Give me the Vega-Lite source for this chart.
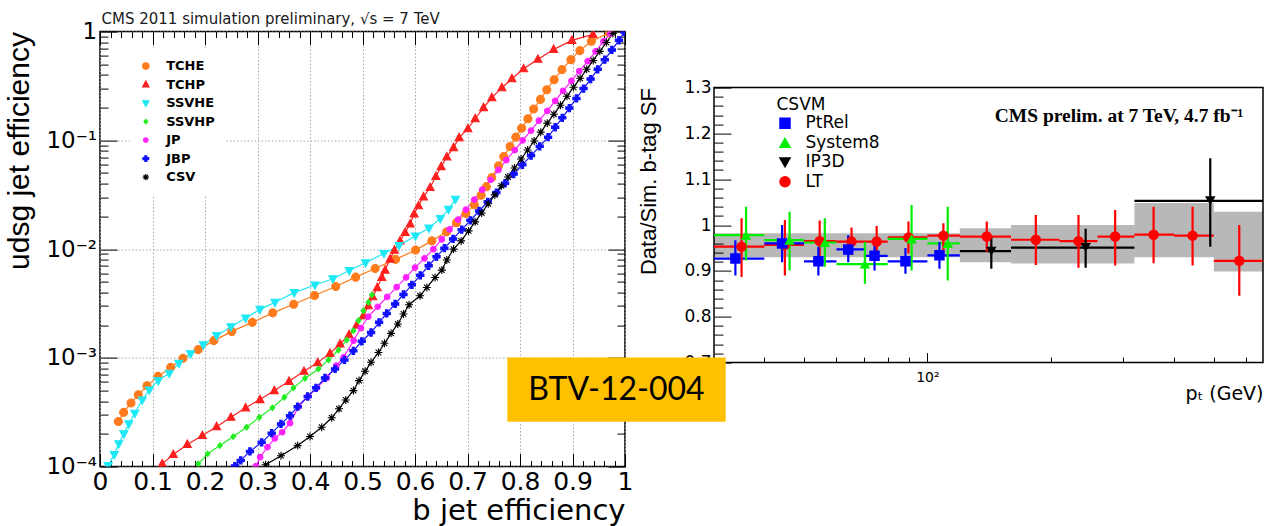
{
  "$schema": "https://vega.github.io/schema/vega-lite/v6.json",
  "autosize": {"type": "pad"},
  "padding": {"left": 3, "top": 10.6, "right": 0, "bottom": 0},
  "background": "white",
  "config": {
    "font": "DejaVu Sans",
    "axis": {"domain": false, "grid": false, "labelColor": "black", "tickColor": "black", "titleColor": "black", "titleFontWeight": "normal", "labelOverlap": false, "labelFlush": false},
    "legend": {"labelColor": "black", "titleColor": "black"}
  },
  "resolve": {"scale": {"fill": "independent", "stroke": "independent", "shape": "independent"}, "legend": {"fill": "independent", "stroke": "independent", "shape": "independent"}},
  "datasets": {
    "roc": [
      {"tagger":"TCHE","b":0.035,"udsg":2.60e-4},{"tagger":"TCHE","b":0.045,"udsg":3.15e-4},{"tagger":"TCHE","b":0.059,"udsg":3.84e-4},{"tagger":"TCHE","b":0.073,"udsg":4.58e-4},{"tagger":"TCHE","b":0.0895,"udsg":5.53e-4},{"tagger":"TCHE","b":0.1105,"udsg":6.75e-4},{"tagger":"TCHE","b":0.1346,"udsg":8.17e-4},{"tagger":"TCHE","b":0.158,"udsg":9.89e-4},{"tagger":"TCHE","b":0.187,"udsg":1.19e-3},{"tagger":"TCHE","b":0.217,"udsg":1.44e-3},{"tagger":"TCHE","b":0.251,"udsg":1.75e-3},{"tagger":"TCHE","b":0.29,"udsg":2.12e-3},{"tagger":"TCHE","b":0.329,"udsg":2.59e-3},{"tagger":"TCHE","b":0.369,"udsg":3.11e-3},{"tagger":"TCHE","b":0.4086,"udsg":3.74e-3},{"tagger":"TCHE","b":0.449,"udsg":4.53e-3},{"tagger":"TCHE","b":0.487,"udsg":5.52e-3},{"tagger":"TCHE","b":0.524,"udsg":6.64e-3},{"tagger":"TCHE","b":0.563,"udsg":8.04e-3},{"tagger":"TCHE","b":0.601,"udsg":9.79e-3},{"tagger":"TCHE","b":0.632,"udsg":1.19e-2},{"tagger":"TCHE","b":0.66,"udsg":1.44e-2},{"tagger":"TCHE","b":0.679,"udsg":1.75e-2},{"tagger":"TCHE","b":0.697,"udsg":2.13e-2},{"tagger":"TCHE","b":0.713,"udsg":2.56e-2},{"tagger":"TCHE","b":0.726,"udsg":3.13e-2},{"tagger":"TCHE","b":0.736,"udsg":3.75e-2},{"tagger":"TCHE","b":0.746,"udsg":4.54e-2},{"tagger":"TCHE","b":0.759,"udsg":5.82e-2},{"tagger":"TCHE","b":0.769,"udsg":7.10e-2},{"tagger":"TCHE","b":0.781,"udsg":8.77e-2},{"tagger":"TCHE","b":0.792,"udsg":0.107},{"tagger":"TCHE","b":0.803,"udsg":0.129},{"tagger":"TCHE","b":0.815,"udsg":0.158},{"tagger":"TCHE","b":0.826,"udsg":0.194},{"tagger":"TCHE","b":0.839,"udsg":0.238},{"tagger":"TCHE","b":0.851,"udsg":0.292},{"tagger":"TCHE","b":0.865,"udsg":0.361},{"tagger":"TCHE","b":0.88,"udsg":0.447},{"tagger":"TCHE","b":0.897,"udsg":0.552},{"tagger":"TCHE","b":0.914,"udsg":0.668},{"tagger":"TCHE","b":0.936,"udsg":0.815},{"tagger":"TCHE","b":0.97,"udsg":0.973},
      {"tagger":"TCHP","b":0.1186,"udsg":1.06e-4},{"tagger":"TCHP","b":0.1396,"udsg":1.29e-4},{"tagger":"TCHP","b":0.1663,"udsg":1.60e-4},{"tagger":"TCHP","b":0.1949,"udsg":1.93e-4},{"tagger":"TCHP","b":0.2221,"udsg":2.33e-4},{"tagger":"TCHP","b":0.2494,"udsg":2.84e-4},{"tagger":"TCHP","b":0.2774,"udsg":3.47e-4},{"tagger":"TCHP","b":0.3047,"udsg":4.13e-4},{"tagger":"TCHP","b":0.3321,"udsg":5.00e-4},{"tagger":"TCHP","b":0.36,"udsg":6.08e-4},{"tagger":"TCHP","b":0.3886,"udsg":7.52e-4},{"tagger":"TCHP","b":0.4147,"udsg":9.04e-4},{"tagger":"TCHP","b":0.4381,"udsg":1.10e-3},{"tagger":"TCHP","b":0.4572,"udsg":1.34e-3},{"tagger":"TCHP","b":0.4744,"udsg":1.63e-3},{"tagger":"TCHP","b":0.489,"udsg":2.00e-3},{"tagger":"TCHP","b":0.5018,"udsg":2.44e-3},{"tagger":"TCHP","b":0.5113,"udsg":3.01e-3},{"tagger":"TCHP","b":0.5195,"udsg":3.65e-3},{"tagger":"TCHP","b":0.5281,"udsg":4.42e-3},{"tagger":"TCHP","b":0.5367,"udsg":5.48e-3},{"tagger":"TCHP","b":0.543,"udsg":6.41e-3},{"tagger":"TCHP","b":0.5525,"udsg":8.09e-3},{"tagger":"TCHP","b":0.5609,"udsg":9.79e-3},{"tagger":"TCHP","b":0.5716,"udsg":1.19e-2},{"tagger":"TCHP","b":0.5811,"udsg":1.42e-2},{"tagger":"TCHP","b":0.5907,"udsg":1.70e-2},{"tagger":"TCHP","b":0.5983,"udsg":2.10e-2},{"tagger":"TCHP","b":0.6067,"udsg":2.50e-2},{"tagger":"TCHP","b":0.6162,"udsg":3.02e-2},{"tagger":"TCHP","b":0.6288,"udsg":3.68e-2},{"tagger":"TCHP","b":0.6397,"udsg":4.65e-2},{"tagger":"TCHP","b":0.6498,"udsg":5.73e-2},{"tagger":"TCHP","b":0.6606,"udsg":7.05e-2},{"tagger":"TCHP","b":0.6734,"udsg":8.57e-2},{"tagger":"TCHP","b":0.6841,"udsg":0.106},{"tagger":"TCHP","b":0.7007,"udsg":0.128},{"tagger":"TCHP","b":0.7146,"udsg":0.158},{"tagger":"TCHP","b":0.7306,"udsg":0.2},{"tagger":"TCHP","b":0.7464,"udsg":0.247},{"tagger":"TCHP","b":0.7655,"udsg":0.305},{"tagger":"TCHP","b":0.7846,"udsg":0.369},{"tagger":"TCHP","b":0.8069,"udsg":0.455},{"tagger":"TCHP","b":0.8341,"udsg":0.556},{"tagger":"TCHP","b":0.8641,"udsg":0.686},{"tagger":"TCHP","b":0.8989,"udsg":0.83},{"tagger":"TCHP","b":0.939,"udsg":0.943},
      {"tagger":"SSVHE","b":0.0156,"udsg":1.02e-4},{"tagger":"SSVHE","b":0.0271,"udsg":1.29e-4},{"tagger":"SSVHE","b":0.0358,"udsg":1.62e-4},{"tagger":"SSVHE","b":0.0454,"udsg":2.00e-4},{"tagger":"SSVHE","b":0.0549,"udsg":2.47e-4},{"tagger":"SSVHE","b":0.0663,"udsg":3.09e-4},{"tagger":"SSVHE","b":0.0805,"udsg":4.10e-4},{"tagger":"SSVHE","b":0.0938,"udsg":5.07e-4},{"tagger":"SSVHE","b":0.111,"udsg":6.18e-4},{"tagger":"SSVHE","b":0.1319,"udsg":7.21e-4},{"tagger":"SSVHE","b":0.1502,"udsg":8.89e-4},{"tagger":"SSVHE","b":0.1725,"udsg":1.09e-3},{"tagger":"SSVHE","b":0.1968,"udsg":1.32e-3},{"tagger":"SSVHE","b":0.2221,"udsg":1.60e-3},{"tagger":"SSVHE","b":0.2494,"udsg":1.93e-3},{"tagger":"SSVHE","b":0.2774,"udsg":2.32e-3},{"tagger":"SSVHE","b":0.3047,"udsg":2.79e-3},{"tagger":"SSVHE","b":0.3333,"udsg":3.24e-3},{"tagger":"SSVHE","b":0.37,"udsg":3.98e-3},{"tagger":"SSVHE","b":0.4093,"udsg":4.68e-3},{"tagger":"SSVHE","b":0.4436,"udsg":5.33e-3},{"tagger":"SSVHE","b":0.4747,"udsg":6.35e-3},{"tagger":"SSVHE","b":0.5058,"udsg":7.48e-3},{"tagger":"SSVHE","b":0.5409,"udsg":9.12e-3},{"tagger":"SSVHE","b":0.5696,"udsg":1.08e-2},{"tagger":"SSVHE","b":0.6008,"udsg":1.32e-2},{"tagger":"SSVHE","b":0.6265,"udsg":1.56e-2},{"tagger":"SSVHE","b":0.6482,"udsg":1.91e-2},{"tagger":"SSVHE","b":0.6638,"udsg":2.32e-2},{"tagger":"SSVHE","b":0.677,"udsg":2.87e-2},
      {"tagger":"SSVHP","b":0.1872,"udsg":1.06e-4},{"tagger":"SSVHP","b":0.205,"udsg":1.31e-4},{"tagger":"SSVHP","b":0.2284,"udsg":1.56e-4},{"tagger":"SSVHP","b":0.2539,"udsg":1.89e-4},{"tagger":"SSVHP","b":0.2793,"udsg":2.30e-4},{"tagger":"SSVHP","b":0.3035,"udsg":2.84e-4},{"tagger":"SSVHP","b":0.3283,"udsg":3.47e-4},{"tagger":"SSVHP","b":0.3512,"udsg":4.34e-4},{"tagger":"SSVHP","b":0.3684,"udsg":5.30e-4},{"tagger":"SSVHP","b":0.3905,"udsg":6.49e-4},{"tagger":"SSVHP","b":0.416,"udsg":7.91e-4},{"tagger":"SSVHP","b":0.4351,"udsg":9.57e-4},{"tagger":"SSVHP","b":0.4542,"udsg":1.18e-3},{"tagger":"SSVHP","b":0.47,"udsg":1.46e-3},{"tagger":"SSVHP","b":0.4827,"udsg":1.78e-3},{"tagger":"SSVHP","b":0.4923,"udsg":2.20e-3},{"tagger":"SSVHP","b":0.5018,"udsg":2.71e-3},{"tagger":"SSVHP","b":0.5113,"udsg":3.24e-3},{"tagger":"SSVHP","b":0.518,"udsg":3.80e-3},
      {"tagger":"JP","b":0.297,"udsg":1.01e-4},{"tagger":"JP","b":0.305,"udsg":1.22e-4},{"tagger":"JP","b":0.319,"udsg":1.51e-4},{"tagger":"JP","b":0.333,"udsg":1.82e-4},{"tagger":"JP","b":0.347,"udsg":2.07e-4},{"tagger":"JP","b":0.362,"udsg":2.51e-4},{"tagger":"JP","b":0.378,"udsg":3.56e-4},{"tagger":"JP","b":0.396,"udsg":4.41e-4},{"tagger":"JP","b":0.413,"udsg":5.30e-4},{"tagger":"JP","b":0.432,"udsg":6.53e-4},{"tagger":"JP","b":0.45,"udsg":8.47e-4},{"tagger":"JP","b":0.464,"udsg":1.01e-3},{"tagger":"JP","b":0.483,"udsg":1.44e-3},{"tagger":"JP","b":0.497,"udsg":1.88e-3},{"tagger":"JP","b":0.511,"udsg":2.39e-3},{"tagger":"JP","b":0.529,"udsg":2.95e-3},{"tagger":"JP","b":0.547,"udsg":3.63e-3},{"tagger":"JP","b":0.565,"udsg":4.47e-3},{"tagger":"JP","b":0.583,"udsg":5.50e-3},{"tagger":"JP","b":0.6,"udsg":6.76e-3},{"tagger":"JP","b":0.618,"udsg":8.22e-3},{"tagger":"JP","b":0.635,"udsg":1.00e-2},{"tagger":"JP","b":0.651,"udsg":1.23e-2},{"tagger":"JP","b":0.666,"udsg":1.52e-2},{"tagger":"JP","b":0.682,"udsg":1.87e-2},{"tagger":"JP","b":0.697,"udsg":2.31e-2},{"tagger":"JP","b":0.713,"udsg":2.85e-2},{"tagger":"JP","b":0.728,"udsg":3.52e-2},{"tagger":"JP","b":0.744,"udsg":4.34e-2},{"tagger":"JP","b":0.759,"udsg":5.35e-2},{"tagger":"JP","b":0.774,"udsg":6.59e-2},{"tagger":"JP","b":0.79,"udsg":8.13e-2},{"tagger":"JP","b":0.805,"udsg":0.1},{"tagger":"JP","b":0.821,"udsg":0.123},{"tagger":"JP","b":0.836,"udsg":0.152},{"tagger":"JP","b":0.852,"udsg":0.187},{"tagger":"JP","b":0.867,"udsg":0.231},{"tagger":"JP","b":0.882,"udsg":0.285},{"tagger":"JP","b":0.898,"udsg":0.352},{"tagger":"JP","b":0.913,"udsg":0.434},{"tagger":"JP","b":0.929,"udsg":0.535},{"tagger":"JP","b":0.944,"udsg":0.659},{"tagger":"JP","b":0.959,"udsg":0.813},{"tagger":"JP","b":0.972,"udsg":0.955},
      {"tagger":"JBP","b":0.257,"udsg":1.01e-4},{"tagger":"JBP","b":0.268,"udsg":1.14e-4},{"tagger":"JBP","b":0.2856,"udsg":1.38e-4},{"tagger":"JBP","b":0.3079,"udsg":1.67e-4},{"tagger":"JBP","b":0.327,"udsg":2.03e-4},{"tagger":"JBP","b":0.3447,"udsg":2.47e-4},{"tagger":"JBP","b":0.3619,"udsg":2.94e-4},{"tagger":"JBP","b":0.3765,"udsg":3.56e-4},{"tagger":"JBP","b":0.3956,"udsg":4.41e-4},{"tagger":"JBP","b":0.4115,"udsg":5.30e-4},{"tagger":"JBP","b":0.4286,"udsg":6.53e-4},{"tagger":"JBP","b":0.4477,"udsg":7.91e-4},{"tagger":"JBP","b":0.4656,"udsg":9.57e-4},{"tagger":"JBP","b":0.4827,"udsg":1.16e-3},{"tagger":"JBP","b":0.4986,"udsg":1.42e-3},{"tagger":"JBP","b":0.5163,"udsg":1.71e-3},{"tagger":"JBP","b":0.5316,"udsg":2.12e-3},{"tagger":"JBP","b":0.5462,"udsg":2.56e-3},{"tagger":"JBP","b":0.5621,"udsg":3.13e-3},{"tagger":"JBP","b":0.578,"udsg":3.83e-3},{"tagger":"JBP","b":0.594,"udsg":4.69e-3},{"tagger":"JBP","b":0.61,"udsg":5.74e-3},{"tagger":"JBP","b":0.626,"udsg":7.03e-3},{"tagger":"JBP","b":0.641,"udsg":8.49e-3},{"tagger":"JBP","b":0.656,"udsg":1.02e-2},{"tagger":"JBP","b":0.6725,"udsg":1.24e-2},{"tagger":"JBP","b":0.689,"udsg":1.51e-2},{"tagger":"JBP","b":0.7055,"udsg":1.84e-2},{"tagger":"JBP","b":0.722,"udsg":2.24e-2},{"tagger":"JBP","b":0.7385,"udsg":2.72e-2},{"tagger":"JBP","b":0.755,"udsg":3.31e-2},{"tagger":"JBP","b":0.7715,"udsg":4.03e-2},{"tagger":"JBP","b":0.788,"udsg":4.90e-2},{"tagger":"JBP","b":0.8045,"udsg":5.96e-2},{"tagger":"JBP","b":0.821,"udsg":7.24e-2},{"tagger":"JBP","b":0.8375,"udsg":8.81e-2},{"tagger":"JBP","b":0.8535,"udsg":0.107},{"tagger":"JBP","b":0.867,"udsg":0.132},{"tagger":"JBP","b":0.8805,"udsg":0.161},{"tagger":"JBP","b":0.894,"udsg":0.198},{"tagger":"JBP","b":0.9075,"udsg":0.243},{"tagger":"JBP","b":0.921,"udsg":0.299},{"tagger":"JBP","b":0.9345,"udsg":0.366},{"tagger":"JBP","b":0.948,"udsg":0.45},{"tagger":"JBP","b":0.9615,"udsg":0.552},{"tagger":"JBP","b":0.975,"udsg":0.678},{"tagger":"JBP","b":0.9885,"udsg":0.832},{"tagger":"JBP","b":0.999,"udsg":0.993},
      {"tagger":"CSV","b":0.3155,"udsg":1.04e-4},{"tagger":"CSV","b":0.3447,"udsg":1.26e-4},{"tagger":"CSV","b":0.3765,"udsg":1.56e-4},{"tagger":"CSV","b":0.4,"udsg":1.89e-4},{"tagger":"CSV","b":0.4223,"udsg":2.30e-4},{"tagger":"CSV","b":0.4414,"udsg":2.81e-4},{"tagger":"CSV","b":0.4553,"udsg":3.40e-4},{"tagger":"CSV","b":0.4681,"udsg":4.10e-4},{"tagger":"CSV","b":0.4827,"udsg":5.00e-4},{"tagger":"CSV","b":0.4934,"udsg":6.18e-4},{"tagger":"CSV","b":0.5049,"udsg":7.52e-4},{"tagger":"CSV","b":0.5163,"udsg":9.10e-4},{"tagger":"CSV","b":0.5304,"udsg":1.12e-3},{"tagger":"CSV","b":0.5418,"udsg":1.36e-3},{"tagger":"CSV","b":0.5544,"udsg":1.68e-3},{"tagger":"CSV","b":0.5672,"udsg":2.05e-3},{"tagger":"CSV","b":0.5781,"udsg":2.53e-3},{"tagger":"CSV","b":0.5887,"udsg":3.08e-3},{"tagger":"CSV","b":0.6097,"udsg":3.72e-3},{"tagger":"CSV","b":0.6225,"udsg":4.44e-3},{"tagger":"CSV","b":0.6383,"udsg":5.48e-3},{"tagger":"CSV","b":0.6511,"udsg":6.41e-3},{"tagger":"CSV","b":0.6606,"udsg":7.93e-3},{"tagger":"CSV","b":0.6734,"udsg":1.00e-2},{"tagger":"CSV","b":0.6879,"udsg":1.19e-2},{"tagger":"CSV","b":0.702,"udsg":1.47e-2},{"tagger":"CSV","b":0.7145,"udsg":1.78e-2},{"tagger":"CSV","b":0.727,"udsg":2.15e-2},{"tagger":"CSV","b":0.7395,"udsg":2.61e-2},{"tagger":"CSV","b":0.752,"udsg":3.15e-2},{"tagger":"CSV","b":0.7645,"udsg":3.81e-2},{"tagger":"CSV","b":0.777,"udsg":4.60e-2},{"tagger":"CSV","b":0.7895,"udsg":5.57e-2},{"tagger":"CSV","b":0.802,"udsg":6.73e-2},{"tagger":"CSV","b":0.8145,"udsg":8.15e-2},{"tagger":"CSV","b":0.827,"udsg":9.86e-2},{"tagger":"CSV","b":0.8395,"udsg":0.119},{"tagger":"CSV","b":0.852,"udsg":0.144},{"tagger":"CSV","b":0.8645,"udsg":0.174},{"tagger":"CSV","b":0.877,"udsg":0.21},{"tagger":"CSV","b":0.8895,"udsg":0.254},{"tagger":"CSV","b":0.902,"udsg":0.308},{"tagger":"CSV","b":0.9145,"udsg":0.372},{"tagger":"CSV","b":0.927,"udsg":0.45},{"tagger":"CSV","b":0.9395,"udsg":0.543},{"tagger":"CSV","b":0.952,"udsg":0.658},{"tagger":"CSV","b":0.9645,"udsg":0.794},{"tagger":"CSV","b":0.977,"udsg":0.962}
    ],
    "sf": [
      {"method":"LT","pt":35.2,"pt_lo":30,"pt_hi":40,"sf":0.953,"sf_lo":0.887,"sf_hi":1.015},
      {"method":"LT","pt":44.9,"pt_lo":40,"pt_hi":50,"sf":0.957,"sf_lo":0.89,"sf_hi":1.011},
      {"method":"LT","pt":54.6,"pt_lo":50,"pt_hi":60,"sf":0.965,"sf_lo":0.925,"sf_hi":1.01},
      {"method":"LT","pt":65.3,"pt_lo":60,"pt_hi":70,"sf":0.964,"sf_lo":0.935,"sf_hi":0.995},
      {"method":"LT","pt":75.2,"pt_lo":70,"pt_hi":80,"sf":0.964,"sf_lo":0.936,"sf_hi":0.998},
      {"method":"LT","pt":89.9,"pt_lo":80,"pt_hi":100,"sf":0.973,"sf_lo":0.938,"sf_hi":1.008},
      {"method":"LT","pt":109.4,"pt_lo":100,"pt_hi":120,"sf":0.977,"sf_lo":0.942,"sf_hi":1.004},
      {"method":"LT","pt":139.6,"pt_lo":120,"pt_hi":160,"sf":0.975,"sf_lo":0.942,"sf_hi":1.008},
      {"method":"LT","pt":183.9,"pt_lo":160,"pt_hi":210,"sf":0.968,"sf_lo":0.913,"sf_hi":1.022},
      {"method":"LT","pt":233.7,"pt_lo":210,"pt_hi":260,"sf":0.965,"sf_lo":0.907,"sf_hi":1.022},
      {"method":"LT","pt":287.2,"pt_lo":260,"pt_hi":320,"sf":0.975,"sf_lo":0.912,"sf_hi":1.033},
      {"method":"LT","pt":356.4,"pt_lo":320,"pt_hi":400,"sf":0.979,"sf_lo":0.917,"sf_hi":1.04},
      {"method":"LT","pt":443.7,"pt_lo":400,"pt_hi":500,"sf":0.977,"sf_lo":0.912,"sf_hi":1.04},
      {"method":"LT","pt":576.8,"pt_lo":500,"pt_hi":670,"sf":0.922,"sf_lo":0.846,"sf_hi":1.0},
      {"method":"PtRel","pt":34,"pt_lo":30,"pt_hi":40,"sf":0.927,"sf_lo":0.89,"sf_hi":0.967},
      {"method":"PtRel","pt":44.2,"pt_lo":40,"pt_hi":50,"sf":0.96,"sf_lo":0.919,"sf_hi":1.0},
      {"method":"PtRel","pt":54.2,"pt_lo":50,"pt_hi":60,"sf":0.921,"sf_lo":0.89,"sf_hi":0.952},
      {"method":"PtRel","pt":64.1,"pt_lo":60,"pt_hi":70,"sf":0.947,"sf_lo":0.919,"sf_hi":0.978},
      {"method":"PtRel","pt":74.3,"pt_lo":70,"pt_hi":80,"sf":0.933,"sf_lo":0.901,"sf_hi":0.96},
      {"method":"PtRel","pt":88.4,"pt_lo":80,"pt_hi":100,"sf":0.921,"sf_lo":0.894,"sf_hi":0.95},
      {"method":"PtRel","pt":107,"pt_lo":100,"pt_hi":120,"sf":0.934,"sf_lo":0.905,"sf_hi":0.963},
      {"method":"System8","pt":36.1,"pt_lo":30,"pt_hi":40,"sf":0.978,"sf_lo":0.923,"sf_hi":1.04},
      {"method":"System8","pt":46.1,"pt_lo":40,"pt_hi":50,"sf":0.967,"sf_lo":0.901,"sf_hi":1.029},
      {"method":"System8","pt":56.2,"pt_lo":50,"pt_hi":60,"sf":0.962,"sf_lo":0.909,"sf_hi":1.015},
      {"method":"System8","pt":70.4,"pt_lo":60,"pt_hi":80,"sf":0.915,"sf_lo":0.872,"sf_hi":0.963},
      {"method":"System8","pt":91.5,"pt_lo":80,"pt_hi":100,"sf":0.97,"sf_lo":0.901,"sf_hi":1.044},
      {"method":"System8","pt":112.1,"pt_lo":100,"pt_hi":120,"sf":0.96,"sf_lo":0.879,"sf_hi":1.04},
      {"method":"IP3D","pt":143.2,"pt_lo":120,"pt_hi":160,"sf":0.943,"sf_lo":0.905,"sf_hi":0.975},
      {"method":"IP3D","pt":243.3,"pt_lo":160,"pt_hi":320,"sf":0.951,"sf_lo":0.907,"sf_hi":0.992},
      {"method":"IP3D","pt":490,"pt_lo":320,"pt_hi":800,"sf":1.053,"sf_lo":0.953,"sf_hi":1.146}
    ],
    "band": [
      {"pt_lo":30,"pt_hi":120,"sf_lo":0.93,"sf_hi":0.982},
      {"pt_lo":120,"pt_hi":160,"sf_lo":0.919,"sf_hi":0.993},
      {"pt_lo":160,"pt_hi":320,"sf_lo":0.916,"sf_hi":1.0},
      {"pt_lo":320,"pt_hi":500,"sf_lo":0.93,"sf_hi":1.048},
      {"pt_lo":500,"pt_hi":670,"sf_lo":0.899,"sf_hi":1.029}
    ]
  },
  "bounds": "flush",
  "spacing": 89,
  "hconcat": [
    {
      "width": 525,
      "height": 435,
      "view": {"stroke": "black", "strokeWidth": 1.5},
      "data": {"name": "roc"},
      "layer": [
        {
          "mark": {"type": "line", "strokeWidth": 1.2, "clip": true},
          "encoding": {
            "x": {"field": "b", "type": "quantitative", "scale": {"domain": [0, 1], "nice": false, "zero": false},
              "axis": {"orient": "bottom", "values": [0,0.02,0.04,0.06,0.08,0.1,0.12,0.14,0.16,0.18,0.2,0.22,0.24,0.26,0.28,0.3,0.32,0.34,0.36,0.38,0.4,0.42,0.44,0.46,0.48,0.5,0.52,0.54,0.56,0.58,0.6,0.62,0.64,0.66,0.68,0.7,0.72,0.74,0.76,0.78,0.8,0.82,0.84,0.86,0.88,0.9,0.92,0.94,0.96,0.98,1],
                "labelExpr": "abs(datum.value*10-round(datum.value*10))<0.001 ? (datum.value==0 ? '0' : (datum.value==1 ? '1' : format(datum.value,'.1f'))) : ''",
                "tickSize": {"condition": {"test": "abs(datum.value*10-round(datum.value*10))<0.001", "value": -13}, "value": -6},
                "grid": true, "gridColor": "#a8a8a8", "gridDash": [1.5, 2], "gridWidth": 1,
                "gridOpacity": {"condition": {"test": "abs(datum.value*10-round(datum.value*10))<0.001", "value": 1}, "value": 0},
                "labelFont": "DejaVu Sans", "labelFontSize": 25, "labelPadding": 16,
                "title": "b jet efficiency", "titleFont": "DejaVu Sans", "titleFontSize": 29, "titleAnchor": "end", "titleAlign": "right", "titleBaseline": "alphabetic", "titleY": 53}},
            "y": {"field": "udsg", "type": "quantitative", "scale": {"type": "log", "domain": [0.0001, 1], "nice": false},
              "axis": {"orient": "left", "values": [0.0001,0.0002,0.0003,0.0004,0.0005,0.0006,0.0007,0.0008,0.0009,0.001,0.002,0.003,0.004,0.005,0.006,0.007,0.008,0.009,0.01,0.02,0.03,0.04,0.05,0.06,0.07,0.08,0.09,0.1,0.2,0.3,0.4,0.5,0.6,0.7,0.8,0.9,1],
                "labelExpr": "datum.value==1 ? '1' : datum.value==0.1 ? '10⁻¹' : datum.value==0.01 ? '10⁻²' : datum.value==0.001 ? '10⁻³' : datum.value==0.0001 ? '10⁻⁴' : ''",
                "tickSize": {"condition": {"test": "abs(log(datum.value)/LN10-round(log(datum.value)/LN10))<0.001", "value": -17}, "value": -8},
                "grid": true, "gridColor": "#a8a8a8", "gridDash": [1.5, 2], "gridWidth": 1,
                "gridOpacity": {"condition": {"test": "abs(log(datum.value)/LN10-round(log(datum.value)/LN10))<0.001", "value": 1}, "value": 0},
                "labelFont": "DejaVu Sans", "labelFontSize": 23, "labelPadding": 20.5,
                "title": "udsg jet efficiency", "titleFont": "Liberation Sans", "titleFontSize": 30, "titleAnchor": "end", "titleBaseline": "bottom", "titleX": -65.5}},
            "stroke": {"field": "tagger", "type": "nominal", "scale": {"domain": ["TCHE","TCHP","SSVHE","SSVHP","JP","JBP","CSV"], "range": ["#ff7a1a","#ff1f1f","#1ee8f5","#22ee22","#ff22ff","#1010ff","#000000"]}}
          }
        },
        {
          "mark": {"type": "point", "filled": true, "size": 64, "strokeWidth": 1.1, "opacity": 1, "clip": true},
          "encoding": {
            "x": {"field": "b", "type": "quantitative", "axis": null},
            "y": {"field": "udsg", "type": "quantitative", "axis": null},
            "stroke": {"field": "tagger", "type": "nominal"},
            "shape": {"field": "tagger", "type": "nominal", "scale": {"domain": ["TCHE","TCHP","SSVHE","SSVHP","JP","JBP","CSV"], "range": ["M-1,0A1,1 0 1,0 1,0A1,1 0 1,0 -1,0Z","M0,-1.1L1,0.75H-1Z","M0,1.1L1,-0.75H-1Z","M0,-0.7L0.6,0L0,0.7L-0.6,0Z","M-0.7,0A0.7,0.7 0 1,0 0.7,0A0.7,0.7 0 1,0 -0.7,0Z","M-0.3,-0.9H0.3V-0.3H0.9V0.3H0.3V0.9H-0.3V0.3H-0.9V-0.3H-0.3Z","M-1,0H1M0,-1V1M-0.7,-0.7L0.7,0.7M-0.7,0.7L0.7,-0.7"]}},
            "fill": {"field": "tagger", "type": "nominal", "scale": {"domain": ["TCHE","TCHP","SSVHE","SSVHP","JP","JBP","CSV"], "range": ["#ff7a1a","#ff1f1f","#1ee8f5","#22ee22","#ff22ff","#1010ff","#000000"]},
              "legend": {"orient": "none", "legendX": 29.3, "legendY": 18, "title": null, "padding": 10, "fillColor": "white",
                "labelFont": "DejaVu Sans", "labelFontSize": 13, "labelFontWeight": "bold", "labelOffset": 13.9, "rowPadding": 4.5,
                "symbolSize": 40, "symbolStrokeWidth": 1.2}}
          }
        },
        {
          "mark": {"type": "point", "opacity": 0},
          "encoding": {
            "x": {"field": "b", "type": "quantitative",
              "axis": {"orient": "top", "labels": false, "title": null, "grid": false, "values": [0,0.02,0.04,0.06,0.08,0.1,0.12,0.14,0.16,0.18,0.2,0.22,0.24,0.26,0.28,0.3,0.32,0.34,0.36,0.38,0.4,0.42,0.44,0.46,0.48,0.5,0.52,0.54,0.56,0.58,0.6,0.62,0.64,0.66,0.68,0.7,0.72,0.74,0.76,0.78,0.8,0.82,0.84,0.86,0.88,0.9,0.92,0.94,0.96,0.98,1],
                "tickSize": {"condition": {"test": "abs(datum.value*10-round(datum.value*10))<0.001", "value": -13}, "value": -6}}},
            "y": {"field": "udsg", "type": "quantitative",
              "axis": {"orient": "right", "labels": false, "title": null, "grid": false, "values": [0.0001,0.0002,0.0003,0.0004,0.0005,0.0006,0.0007,0.0008,0.0009,0.001,0.002,0.003,0.004,0.005,0.006,0.007,0.008,0.009,0.01,0.02,0.03,0.04,0.05,0.06,0.07,0.08,0.09,0.1,0.2,0.3,0.4,0.5,0.6,0.7,0.8,0.9,1],
                "tickSize": {"condition": {"test": "abs(log(datum.value)/LN10-round(log(datum.value)/LN10))<0.001", "value": -17}, "value": -8}}}
          }
        },
        {
          "data": {"values": [{}]},
          "mark": {"type": "text", "align": "left", "baseline": "alphabetic", "font": "DejaVu Sans", "fontSize": 15, "color": "#1a1a1a", "clip": false},
          "encoding": {
            "x": {"datum": 0.003, "type": "quantitative", "axis": null},
            "y": {"datum": 1.184, "type": "quantitative", "axis": null},
            "text": {"value": "CMS 2011 simulation preliminary, √s = 7 TeV"}
          }
        }
      ],
      "resolve": {"axis": {"x": "independent", "y": "independent"}}
    },
    {
      "bounds": "flush",
      "spacing": 0,
      "vconcat": [
        {"width": 549, "height": 55.5, "data": {"values": []}, "mark": {"type": "point", "opacity": 0}, "view": {"stroke": null}},
        {
          "width": 549,
          "height": 275,
          "view": {"stroke": "black", "strokeWidth": 1.5},
          "resolve": {"axis": {"x": "independent", "y": "independent"}},
          "layer": [
            {
              "data": {"name": "band"},
              "mark": {"type": "rect", "fill": "#000000", "fillOpacity": 0.28, "clip": true},
              "encoding": {
                "x": {"field": "pt_lo", "type": "quantitative", "scale": {"type": "log", "domain": [30.15, 659], "nice": false},
                  "axis": {"orient": "bottom", "values": [40,50,60,70,80,90,100,200,300,400,500,600],
                    "labelExpr": "datum.value==100 ? '10²' : ''",
                    "tickSize": {"condition": {"test": "datum.value==100", "value": -10}, "value": -5.5},
                    "labelFont": "DejaVu Sans", "labelFontSize": 14, "labelPadding": 18,
                    "title": "pₜ (GeV)", "titleFont": "DejaVu Sans", "titleFontSize": 19, "titleAnchor": "end", "titleAlign": "right", "titleBaseline": "alphabetic", "titleY": 37}},
                "x2": {"field": "pt_hi"},
                "y": {"field": "sf_lo", "type": "quantitative", "scale": {"domain": [0.7, 1.3], "nice": false, "zero": false},
                  "axis": {"orient": "left", "values": [0.7,0.72,0.74,0.76,0.78,0.8,0.82,0.84,0.86,0.88,0.9,0.92,0.94,0.96,0.98,1,1.02,1.04,1.06,1.08,1.1,1.12,1.14,1.16,1.18,1.2,1.22,1.24,1.26,1.28,1.3],
                    "labelExpr": "abs(datum.value*10-round(datum.value*10))<0.001 ? (abs(datum.value-1)<0.001 ? '1' : format(datum.value,'.1f')) : ''",
                    "tickSize": {"condition": {"test": "abs(datum.value*10-round(datum.value*10))<0.001", "value": -17}, "value": -9},
                    "labelFont": "DejaVu Sans", "labelFontSize": 17, "labelPadding": 20,
                    "title": "Data/Sim. b-tag SF", "titleFont": "Liberation Sans", "titleFontSize": 22, "titleAnchor": "end", "titleBaseline": "bottom", "titleX": -53}},
                "y2": {"field": "sf_hi"}
              }
            },
            {
              "data": {"name": "sf"},
              "mark": {"type": "rule", "strokeWidth": 2.2, "clip": true},
              "encoding": {
                "x": {"field": "pt_lo", "type": "quantitative", "axis": null},
                "x2": {"field": "pt_hi"},
                "y": {"field": "sf", "type": "quantitative", "axis": null},
                "stroke": {"field": "method", "type": "nominal", "scale": {"domain": ["PtRel","System8","IP3D","LT"], "range": ["#0000ff","#00ee00","#000000","#ff0000"]}}
              }
            },
            {
              "data": {"name": "sf"},
              "mark": {"type": "rule", "strokeWidth": 2.2, "clip": true},
              "encoding": {
                "x": {"field": "pt", "type": "quantitative", "axis": null},
                "y": {"field": "sf_lo", "type": "quantitative", "axis": null},
                "y2": {"field": "sf_hi"},
                "stroke": {"field": "method", "type": "nominal"}
              }
            },
            {
              "data": {"name": "sf"},
              "mark": {"type": "point", "filled": true, "opacity": 1, "size": 110, "clip": true},
              "encoding": {
                "x": {"field": "pt", "type": "quantitative", "axis": null},
                "y": {"field": "sf", "type": "quantitative", "axis": null},
                "shape": {"field": "method", "type": "nominal", "scale": {"domain": ["PtRel","System8","IP3D","LT"], "range": ["square","triangle-up","triangle-down","circle"]}},
                "fill": {"field": "method", "type": "nominal", "scale": {"domain": ["PtRel","System8","IP3D","LT"], "range": ["#0000ff","#00ee00","#000000","#ff0000"]},
                  "legend": {"orient": "none", "legendX": 62.5, "legendY": 65.2, "title": "CSVM", "titleFont": "DejaVu Sans", "titleFontSize": 17, "titleFontWeight": "normal", "titlePadding": 1,
                    "labelFont": "DejaVu Sans", "labelFontSize": 17, "labelOffset": 12, "rowPadding": 1.5, "symbolSize": 100, "padding": 0}}
              }
            },
            {
              "data": {"values": [{}]},
              "mark": {"type": "text", "font": "Liberation Serif", "fontWeight": "bold", "fontSize": 19.5, "align": "left", "baseline": "alphabetic", "color": "black"},
              "encoding": {
                "x": {"datum": 146, "type": "quantitative", "axis": null},
                "y": {"datum": 1.2258, "type": "quantitative", "axis": null},
                "text": {"value": "CMS prelim. at 7 TeV, 4.7 fb⁻¹"}
              }
            },
            {
              "data": {"values": [{}]},
              "mark": {"type": "rect", "color": "#ffc000", "clip": false},
              "encoding": {
                "x": {"datum": 9.44, "type": "quantitative", "axis": null},
                "x2": {"datum": 32.2},
                "y": {"datum": 0.5712, "type": "quantitative", "axis": null},
                "y2": {"datum": 0.7109}
              }
            },
            {
              "data": {"values": [{}]},
              "mark": {"type": "text", "font": "Lato", "fontSize": 32, "align": "center", "baseline": "middle", "color": "black", "clip": false},
              "encoding": {
                "x": {"datum": 17.43, "type": "quantitative", "axis": null},
                "y": {"datum": 0.641, "type": "quantitative", "axis": null},
                "text": {"value": "BTV-12-004"}
              }
            }
          ]
        }
      ]
    }
  ]
}
